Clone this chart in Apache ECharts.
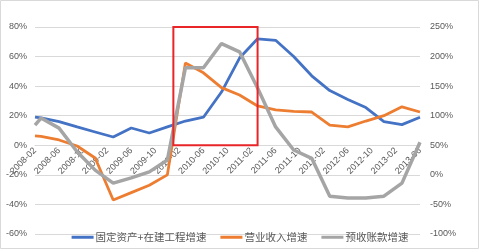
<!DOCTYPE html>
<html><head><meta charset="utf-8">
<script src="https://cdn.jsdelivr.net/npm/echarts@6/dist/echarts.min.js"></script>
<style>html,body{margin:0;padding:0;background:#fff}#c{width:480px;height:251px}</style>
</head><body><div id="c"></div>
<script>
// monthly category axis 2008-02 .. 2013-06
const categories = [];
for (let y = 2008; y <= 2013; y++) {
  for (let m = 1; m <= 12; m++) {
    if (y === 2008 && m < 2) continue;
    if (y === 2013 && m > 6) break;
    categories.push(y + '-' + (m < 10 ? '0' + m : m));
  }
}
const dates = ['2008-02','2008-03','2008-06','2008-09','2008-12','2009-03','2009-06','2009-09','2009-12',
  '2010-03','2010-06','2010-09','2010-12','2011-03','2011-06','2011-09','2011-12',
  '2012-03','2012-06','2012-09','2012-12','2013-03','2013-06'];
const seriesNames = ['固定资产+在建工程增速', '营业收入增速', '预收账款增速'];
const fixedAssets = [19, 18.5, 16, 12.4, 9, 5.6, 11.7, 8.3, 12.4, 16.4, 19, 36, 59, 72, 71, 60, 47, 37, 31, 25.5, 16, 14, 19];
const revenue = [6.3, 6, 3.6, -0.5, -8.6, -37, -32, -27, -20, 55.6, 49, 39, 34, 26.6, 24, 23, 22.5, 13.7, 12.4, 16.4, 20, 26, 22.5];
const advance = [84, 96, 79, 39, 8, -14, -5, 5, 25, 181, 181, 222, 208, 147, 81, 42, 28, -36, -39, -39, -36, -14, 55];
const leftTicks = {min: -60, max: 80, interval: 20};
const rightTicks = {min: -100, max: 250, interval: 50};

function pairs(vals) { return dates.map((d, i) => [categories.indexOf(d), vals[i]]); }

const gridTop = 27, gridBottom = 17, H = 251;
const plotH = H - gridTop - gridBottom;
const zeroY = gridTop + (leftTicks.max / (leftTicks.max - leftTicks.min)) * plotH;
const xOffset = -((H - gridBottom) - zeroY);

const chart = echarts.init(document.getElementById('c'), null, {renderer: 'canvas'});
const lbl = {color: '#595959', fontSize: 9, fontFamily: 'Liberation Sans, Arial, sans-serif'};
chart.setOption({
  animation: false,
  grid: {left: 35, right: 60, top: gridTop, bottom: gridBottom, containLabel: false, outerBoundsMode: 'none'},
  legend: {
    top: 227, left: 'center', itemGap: 14, itemWidth: 22, itemHeight: 3, icon: 'rect',
    textStyle: {color: '#595959', fontSize: 10.5, fontFamily: 'Noto Sans CJK SC', padding: [0, 0, 0, -3]},
    data: seriesNames
  },
  xAxis: {
    type: 'category', data: categories, boundaryGap: false, position: 'bottom', offset: xOffset,
    axisLine: {show: true, onZero: false, lineStyle: {color: '#d9d9d9'}},
    axisTick: {show: false},
    axisLabel: Object.assign({interval: 3, rotate: 45, margin: 4, hideOverlap: false}, lbl),
    splitLine: {show: false}
  },
  yAxis: [
    {type: 'value', min: leftTicks.min, max: leftTicks.max, interval: leftTicks.interval,
     axisLabel: Object.assign({formatter: '{value}%', margin: 8}, lbl),
     axisLine: {show: false}, axisTick: {show: false},
     splitLine: {lineStyle: {color: '#d9d9d9', width: 1}}},
    {type: 'value', min: rightTicks.min, max: rightTicks.max, interval: rightTicks.interval,
     axisLabel: Object.assign({formatter: '{value}%', margin: 10}, lbl),
     axisLine: {show: false}, axisTick: {show: false}, splitLine: {show: false}}
  ],
  series: [
    {name: seriesNames[0], type: 'line', yAxisIndex: 0, data: pairs(fixedAssets), symbol: 'none',
     lineStyle: {color: '#4472C4', width: 2.8}, itemStyle: {color: '#4472C4'}, z: 3},
    {name: seriesNames[1], type: 'line', yAxisIndex: 0, data: pairs(revenue), symbol: 'none',
     lineStyle: {color: '#ED7D31', width: 2.8}, itemStyle: {color: '#ED7D31'}, z: 4},
    {name: seriesNames[2], type: 'line', yAxisIndex: 1, data: pairs(advance), symbol: 'none',
     lineStyle: {color: '#A5A5A5', width: 3.5}, itemStyle: {color: '#A5A5A5'}, z: 5}
  ]
});
// annotation box around 2010 period and chart border
const p1 = chart.convertToPixel({xAxisIndex: 0, yAxisIndex: 0}, [categories.indexOf('2010-01') + 0.4, 80]);
const p2 = chart.convertToPixel({xAxisIndex: 0, yAxisIndex: 0}, [categories.indexOf('2011-03') - 0.1, 0]);
chart.setOption({
  graphic: [
    {type: 'rect', shape: {x: p1[0], y: p1[1], width: p2[0] - p1[0], height: p2[1] - p1[1]},
     style: {fill: 'none', stroke: '#E8262A', lineWidth: 2}, z: 10},
    {type: 'rect', shape: {x: 0.5, y: 0.5, width: 478, height: 248},
     style: {fill: 'none', stroke: '#d9d9d9', lineWidth: 1}, z: 0, silent: true}
  ]
});
</script></body></html>
